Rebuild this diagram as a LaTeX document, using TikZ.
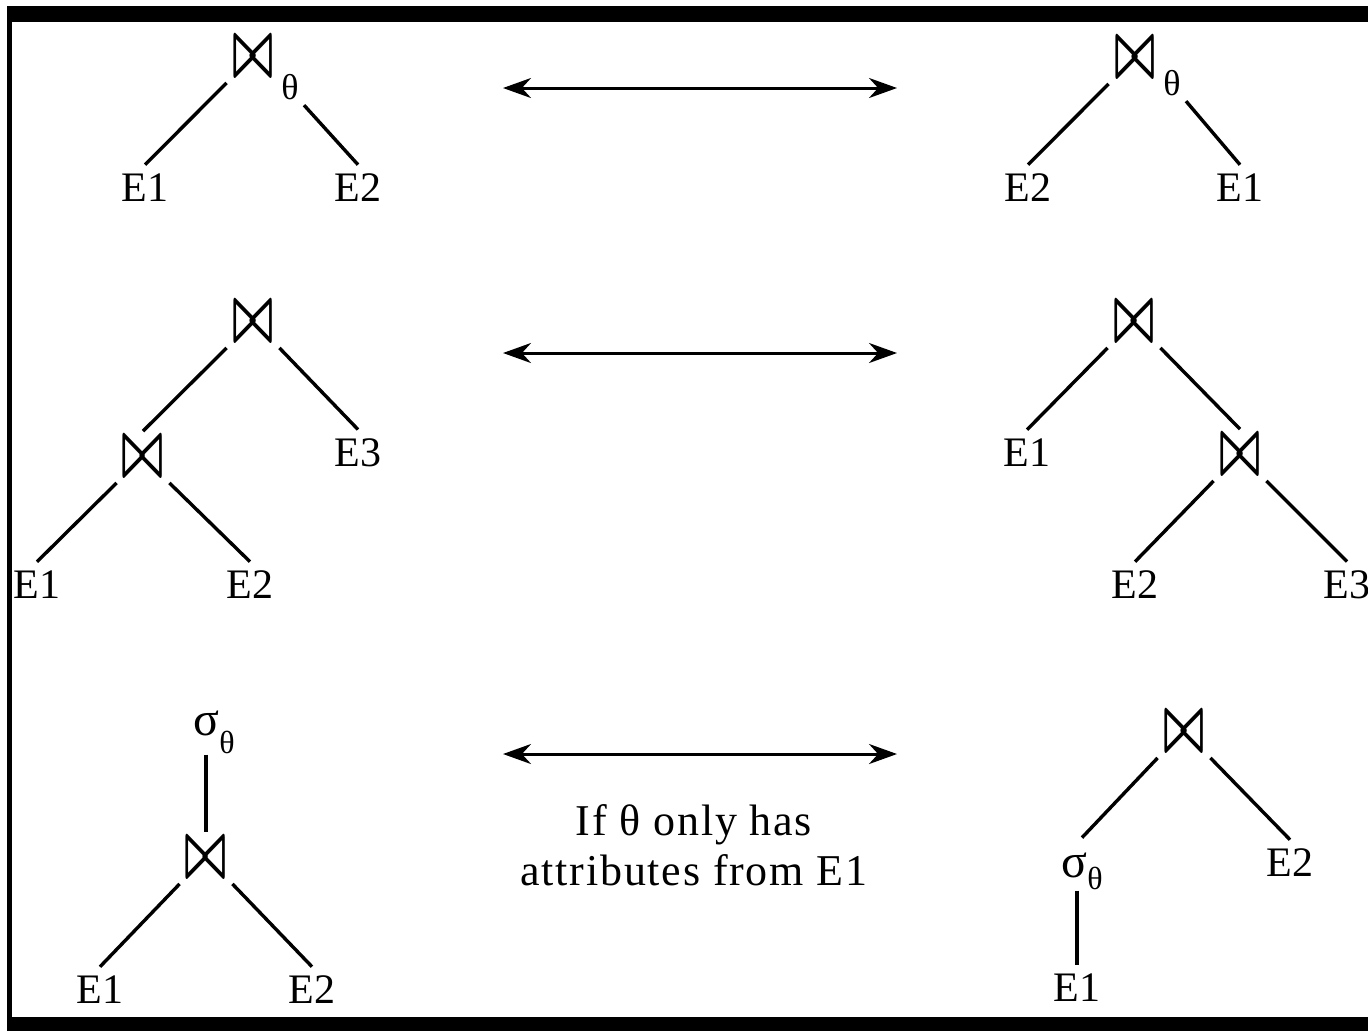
\documentclass[tikz,border=0pt]{standalone}
\usepackage{fontspec}
\setmainfont{Liberation Serif}
\usepackage{graphicx}
\usetikzlibrary{arrows.meta}
\newcommand{\bowsym}{\resizebox*{21pt}{18.5pt}{\boldmath$\bowtie$}}
\newcommand{\sigsub}[1]{σ\raisebox{-#1}{\fontsize{16}{18}\selectfont θ}}

\begin{document}
\begin{tikzpicture}[x=0.5pt, y=-0.5pt,
  joinop/.style={inner xsep=2.5pt, inner ysep=3.5pt},
  leaf/.style={font=\fontsize{21}{25}\selectfont, inner sep=4.5pt},
  subth/.style={font=\fontsize{18}{20}\selectfont, inner sep=2.5pt},
  selop/.style={font=\fontsize{24}{26}\selectfont, anchor=base west,
                inner xsep=0pt, inner ysep=0.5pt, text height=19pt},
  branch/.style={line width=1.7pt},
  equiv/.style={{Stealth[length=14pt,width=10pt]}-{Stealth[length=14pt,width=10pt]},
                line width=1.5pt}]
  \useasboundingbox (0,0) rectangle (1368,1030);
  \fill (7,6) rectangle (1380,1040);
  \fill[white] (12,22) rectangle (1380,1017);

  \node[joinop] (j1) at (253,57) {\bowsym};
  \node[subth] (t1) at (290,87) {θ};
  \node[leaf] (e11) at (145,188) {E1};
  \node[leaf] (e12) at (358,188) {E2};
  \draw[branch] (j1.south west) -- (e11.north);
  \draw[branch] (t1.south east) -- (e12.north);

  \node[joinop] (j2) at (1135,58) {\bowsym};
  \node[subth] (t2) at (1172,83) {θ};
  \node[leaf] (e21) at (1028,188) {E2};
  \node[leaf] (e22) at (1240,188) {E1};
  \draw[branch] (j2.south west) -- (e21.north);
  \draw[branch] (t2.south east) -- (e22.north);

  \coordinate (a1l) at (503,88);
  \coordinate (a1r) at (897,88);
  \draw[equiv] (a1l) -- (a1r);

  \node[joinop] (j3) at (253,322) {\bowsym};
  \node[joinop] (j4) at (143,457) {\bowsym};
  \node[leaf] (e3) at (358,453) {E3};
  \node[leaf] (e4) at (37,585) {E1};
  \node[leaf] (e5) at (250,585) {E2};
  \draw[branch] (j3.south west) -- (j4.north);
  \draw[branch] (j3.south east) -- (e3.north);
  \draw[branch] (j4.south west) -- (e4.north);
  \draw[branch] (j4.south east) -- (e5.north);

  \coordinate (a2l) at (503,353);
  \coordinate (a2r) at (897,353);
  \draw[equiv] (a2l) -- (a2r);

  \node[joinop] (j5) at (1134,322) {\bowsym};
  \node[leaf] (e6) at (1027,453) {E1};
  \node[joinop] (j6) at (1240,455) {\bowsym};
  \node[leaf] (e7) at (1135,585) {E2};
  \node[leaf] (e8) at (1347,585) {E3};
  \draw[branch] (j5.south west) -- (e6.north);
  \draw[branch] (j5.south east) -- (j6.north);
  \draw[branch] (j6.south west) -- (e7.north);
  \draw[branch] (j6.south east) -- (e8.north);

  \node[selop] (s1) at (193,735) {\sigsub{9pt}};
  \node[joinop] (j7) at (206,858) {\bowsym};
  \node[leaf] (e10) at (100,990) {E1};
  \node[leaf] (e11b) at (312,990) {E2};
  \draw[branch] (s1.south -| j7) -- (j7.north);
  \draw[branch] (j7.south west) -- (e10.north);
  \draw[branch] (j7.south east) -- (e11b.north);

  \coordinate (a3l) at (503,754);
  \coordinate (a3r) at (897,754);
  \draw[equiv] (a3l) -- (a3r);
  \node[font=\fontsize{22}{25}\selectfont\addfontfeature{LetterSpace=4},
        align=center] (cond) at (694,845)
       {If θ only has\\attributes from E1};

  \node[joinop] (j8) at (1184,732) {\bowsym};
  \node[selop] (s2) at (1061,877) {\sigsub{6pt}};
  \node[leaf] (e12b) at (1290,863) {E2};
  \node[leaf] (e9) at (1077,988) {E1};
  \draw[branch] (j8.south west) -- (s2.north);
  \draw[branch] (j8.south east) -- (e12b.north);
  \draw[branch] (s2.south -| e9) -- (e9.north);
\end{tikzpicture}
\end{document}
